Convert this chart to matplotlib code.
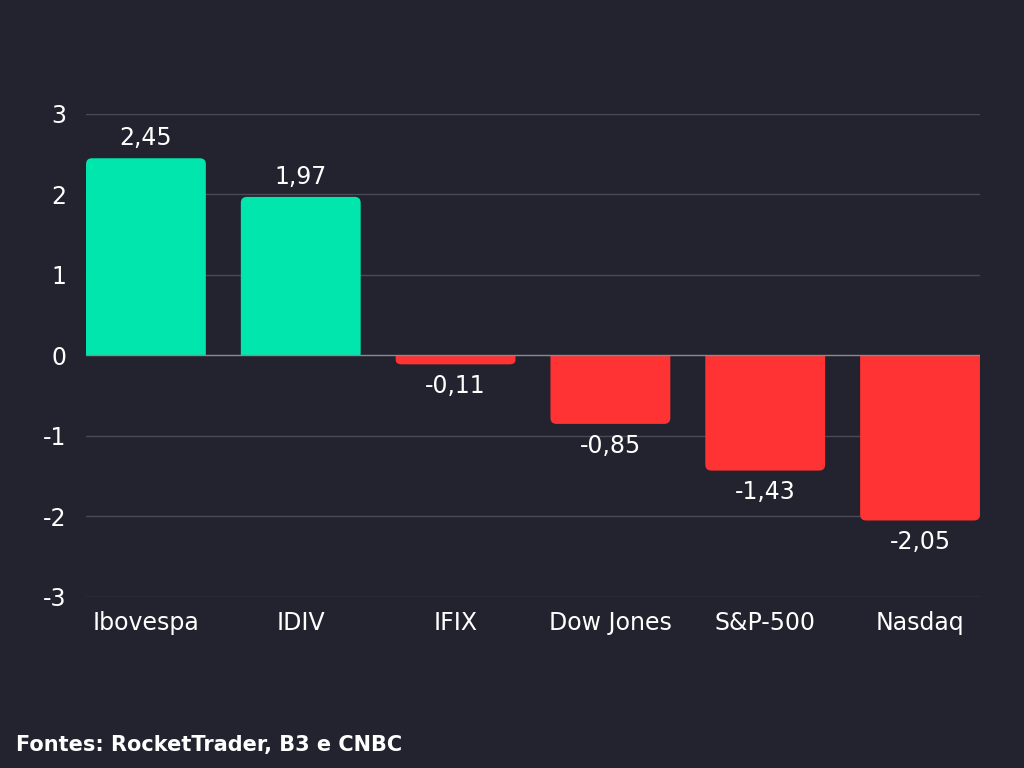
import matplotlib
matplotlib.use("Agg")
import matplotlib.pyplot as plt
from matplotlib.path import Path
from matplotlib.patches import PathPatch

BG = "#23232f"
GREEN = "#00e6ad"
RED = "#ff3333"

indices = ["Ibovespa", "IDIV", "IFIX", "Dow Jones", "S&P-500", "Nasdaq"]
variacao = [2.45, 1.97, -0.11, -0.85, -1.43, -2.05]
y_ticks = [-3, -2, -1, 0, 1, 2, 3]

plt.rcParams['font.family'] = ['DejaVu Sans']


def rounded_bar(x, v, w, rx, ry):
    """bar from 0 to v, rounded only at the outer end"""
    x0, x1 = x - w / 2, x + w / 2
    s = 1 if v >= 0 else -1
    ry = min(ry, abs(v) / 2) * s
    verts = [(x0, 0), (x0, v - ry), (x0, v), (x0 + rx, v),
             (x1 - rx, v), (x1, v), (x1, v - ry), (x1, 0), (x0, 0)]
    codes = [Path.MOVETO, Path.LINETO, Path.CURVE3, Path.CURVE3,
             Path.LINETO, Path.CURVE3, Path.CURVE3, Path.LINETO, Path.CLOSEPOLY]
    return Path(verts, codes)


fig = plt.figure(figsize=(10.24, 7.68), dpi=100, facecolor=BG)
ax = fig.add_axes([0.084, 0.2227, 0.873, 0.6289])
ax.set_facecolor(BG)

bar_w = 0.774
ax.set_xlim(-bar_w / 2, len(indices) - 1 + bar_w / 2)
ax.set_ylim(-3, 3)

# grid (zero line drawn over the bars)
for t in y_ticks:
    if t == 0:
        ax.axhline(t, color="#8a8a94", lw=1, zorder=3)
    else:
        ax.axhline(t, color="#4a4a56", lw=1, zorder=1)

rx = 6 / 155
ry = 6 / 80.5
for i, v in enumerate(variacao):
    col = GREEN if v >= 0 else RED
    ax.add_patch(PathPatch(rounded_bar(i, v, bar_w, rx, ry), fc=col, ec="none", zorder=2))
    lbl = f"{v:.2f}".replace(".", ",")
    if v >= 0:
        ax.annotate(lbl, (i, v), xytext=(0, 6), textcoords="offset points",
                    ha="center", va="bottom", color="white", fontsize=17)
    else:
        ax.annotate(lbl, (i, v), xytext=(0, -7), textcoords="offset points",
                    ha="center", va="top", color="white", fontsize=17)

ax.set_xticks(range(len(indices)))
ax.set_xticklabels(indices)
ax.set_yticks(y_ticks)
ax.set_yticklabels([str(t) for t in y_ticks])
ax.tick_params(axis="both", length=0, colors="white", labelsize=17)
ax.tick_params(axis="y", pad=14)
ax.tick_params(axis="x", pad=10)
for s in ax.spines.values():
    s.set_visible(False)

fig.text(16 / 1024, 1 - 745 / 768, "Fontes: RocketTrader, B3 e CNBC",
         color="white", fontsize=15, fontweight="bold", va="center", ha="left")

fig.savefig("out.png", dpi=100, facecolor=BG)
